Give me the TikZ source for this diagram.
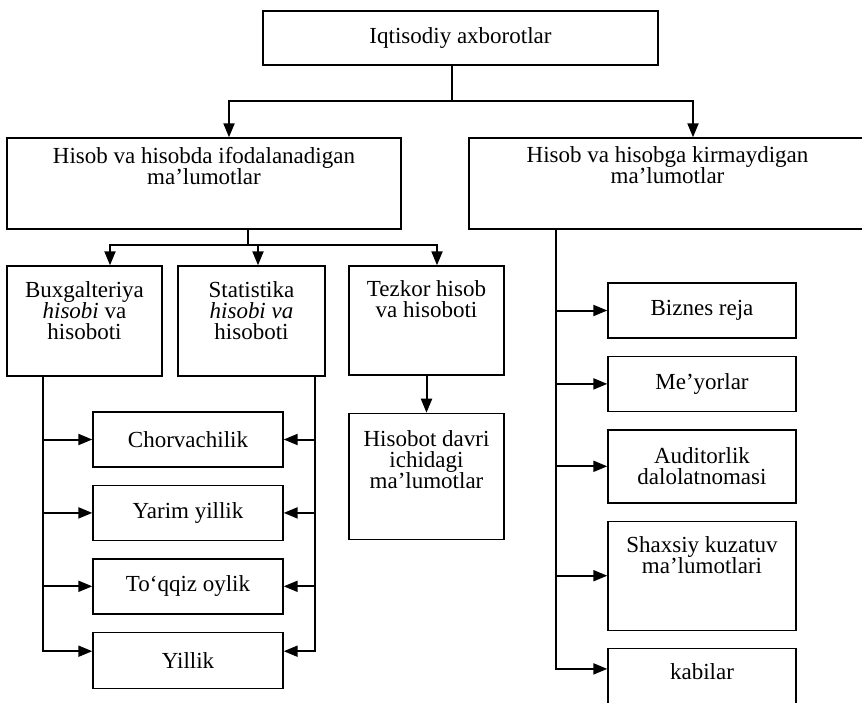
\documentclass[tikz,border=0pt]{standalone}
\usepackage{fontspec}
\setmainfont{Liberation Serif}
\usetikzlibrary{arrows.meta, positioning}

\begin{document}
\begin{tikzpicture}[x=0.5pt, y=-0.5pt, node distance=8.5pt,
  every node/.style={font=\fontsize{11.5}{10.5}\selectfont},
  box/.style={draw, rectangle, line width=0.7pt, inner sep=0pt, align=center},
  line/.style={line width=1pt},
  arr/.style={line width=1pt, -{Triangle[length=7pt, width=5.5pt]}}]
\path[use as bounding box, fill=white] (0,0) rectangle (862,702);

% top levels
\node (axbor) [box, minimum width=197.5pt, minimum height=27pt] at (460.5,38) {Iqtisodiy axborotlar};
\node (hisobda) [box] at (204,183.5) {\parbox[c][45.5pt][t]{197pt}{\centering\vspace{4.5pt}Hisob va hisobda ifodalanadigan\\ ma’lumotlar}};
\node (kirmay) [box] at (667.5,183.5) {\parbox[c][45.5pt][t]{198.5pt}{\centering\vspace{4.5pt}Hisob va hisobga kirmaydigan\\ ma’lumotlar}};

% hisob turlari
\node (bux) [box] at (84.5,321) {\parbox[c][55pt][t]{77.5pt}{\centering\vspace{8pt}Buxgalteriya\\ \textit{hisobi} va\\ hisoboti}};
\node (stat) [box] at (251.5,321) {\parbox[c][55pt][t]{73.5pt}{\centering\vspace{8pt}Statistika\\ \textit{hisobi va}\\ hisoboti}};
\node (tezkor) [box] at (426.5,320.5) {\parbox[c][54.5pt][t]{77.5pt}{\centering\vspace{7.5pt}Tezkor hisob\\ va hisoboti}};
\node (hisobot) [box, below=18.5pt of tezkor] {\parbox[c][63pt][t]{77.5pt}{\centering\vspace{8.5pt}Hisobot davri\\ ichidagi\\ ma’lumotlar}};

% davrlar
\node (chorva) [box, minimum width=95pt, minimum height=27.5pt] at (188,439.5) {Chorvachilik};
\node (yarim) [box, minimum width=95pt, minimum height=27.5pt, below=of chorva] {Yarim yillik};
\node (toqqiz) [box, minimum width=95pt, minimum height=27.5pt, below=of yarim] {To‘qqiz oylik};
\node (yillik) [box, minimum width=95pt, minimum height=28pt, below=of toqqiz] {Yillik};

% boshqa ma'lumotlar
\node (biznes) [box, minimum width=94pt, minimum height=27.5pt] at (702,310.5) {Biznes reja};
\node (meyor) [box, minimum width=94pt, minimum height=27.5pt, below=of biznes] {Me’yorlar};
\node (audit) [box, minimum width=94pt, minimum height=36.5pt, below=of meyor] {Auditorlik\\ dalolatnomasi};
\node (shaxsiy) [box, below=of audit] {\parbox[c][54.5pt][t]{94pt}{\centering\vspace{7.5pt}Shaxsiy kuzatuv\\ ma’lumotlari}};
\node (kabilar) [box, below=of shaxsiy] {\parbox[c][50pt][t]{94pt}{\centering\vspace{7.5pt}kabilar}};

% connectors
\coordinate (j0) at (452,101);
\coordinate (j1) at (248,245);
\coordinate (lt) at (43,376);
\coordinate (rt) at (315,376);
\coordinate (kt) at (556,229);

\draw[line] (axbor.south -| j0) -- (j0);
\draw[arr] (j0) -| ([xshift=12.5pt]hisobda.north);
\draw[arr] (j0) -| ([xshift=12.75pt]kirmay.north);

\draw[line] (hisobda.south -| j1) -- (j1);
\draw[arr] (j1) -| ([xshift=12.75pt]bux.north);
\draw[arr] (j1) -| ([xshift=3.25pt]stat.north);
\draw[arr] (j1) -| ([xshift=5.25pt]tezkor.north);
\draw[arr] (tezkor.south) -- (tezkor.south |- hisobot.north);

\foreach \n in {chorva, yarim, toqqiz} {
  \draw[arr] (lt) |- (\n.west);
  \draw[arr] (rt) |- (\n.east);
}
\draw[arr] (lt) |- ([yshift=4.5pt]yillik.west);
\draw[arr] (rt) |- ([yshift=4.5pt]yillik.east);

\foreach \n in {biznes, meyor, audit, shaxsiy}
  \draw[arr] (kt) |- (\n.west);
\draw[arr] (kt) |- ([yshift=-10.5pt]kabilar.north west);
\end{tikzpicture}
\end{document}
